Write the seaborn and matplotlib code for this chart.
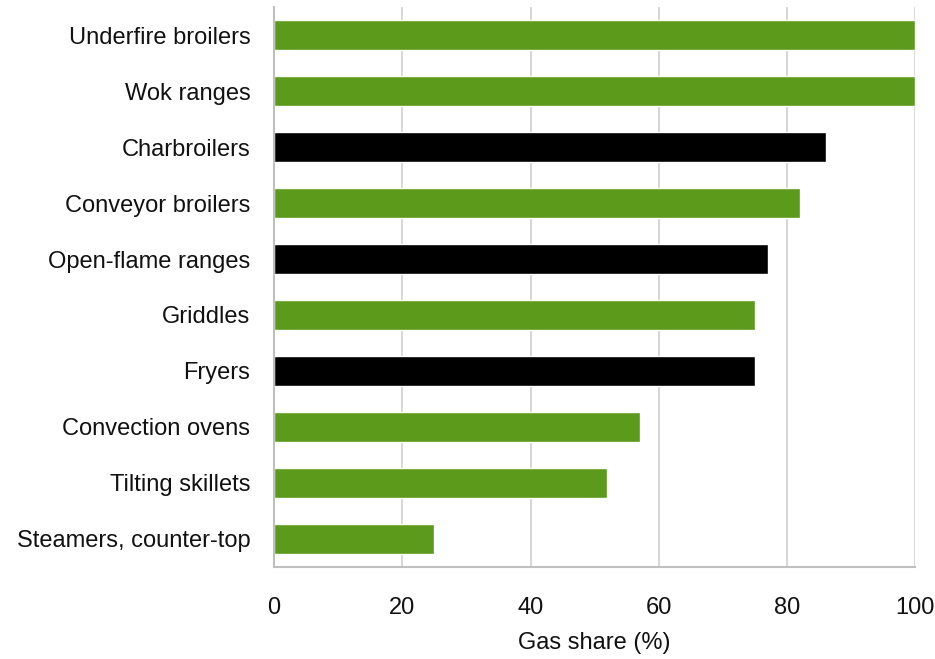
import matplotlib
matplotlib.use("Agg")
import matplotlib.pyplot as plt
import seaborn as sns
import pandas as pd

categories = ["Underfire broilers", "Wok ranges", "Charbroilers", "Conveyor broilers",
              "Open-flame ranges", "Griddles", "Fryers", "Convection ovens",
              "Tilting skillets", "Steamers, counter-top"]
values = [100, 100, 86, 82, 77, 75, 75, 57, 52, 25]
highlight = [False, False, True, False, True, False, True, False, False, False]
xticks = [0, 20, 40, 60, 80, 100]

GREEN = "#5c9a1b"
BLACK = "#000000"

sns.set_theme(style="white")
plt.rcParams['font.family'] = ['Liberation Sans', 'DejaVu Sans']
plt.rcParams['text.color'] = "#111111"
plt.rcParams['xtick.color'] = "#111111"
plt.rcParams['ytick.color'] = "#111111"
plt.rcParams['axes.labelcolor'] = "#111111"

df = pd.DataFrame({"cat": categories, "val": values,
                   "grp": ["hi" if h else "lo" for h in highlight]})

fig = plt.figure(figsize=(9.35, 6.59), dpi=100)
ax = fig.add_axes([0.293, 0.140, 0.686, 0.849])

sns.barplot(data=df, y="cat", x="val", hue="grp", order=categories,
            palette={"hi": BLACK, "lo": GREEN}, dodge=False, width=0.53,
            legend=False, ax=ax, orient="h", saturation=1)

ax.set_xlim(0, 100)
ax.set_xticks(xticks)
ax.set_xticklabels([str(t) for t in xticks], fontsize=17)
ax.tick_params(axis="y", labelsize=17, length=0, pad=17)
ax.tick_params(axis="x", length=0, pad=22)
ax.set_ylabel("")
ax.set_xlabel("Gas share (%)", fontsize=17, labelpad=9)
ax.grid(axis="x", color="#d0d0d0", linewidth=1.2)
ax.set_axisbelow(True)
for s in ["top", "right"]:
    ax.spines[s].set_visible(False)
for s in ["left", "bottom"]:
    ax.spines[s].set_color("#bfbfbf")
    ax.spines[s].set_linewidth(1.5)

fig.savefig("out.png", dpi=100)
